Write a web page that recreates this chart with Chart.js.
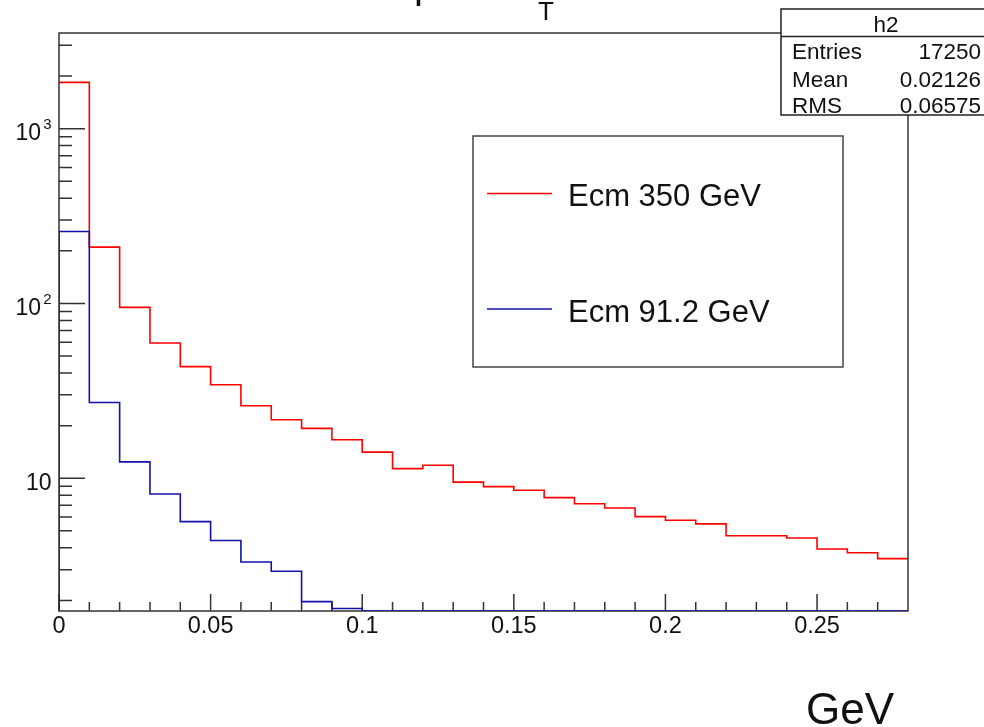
<!DOCTYPE html>
<html>
<head>
<meta charset="utf-8">
<script src="https://cdn.jsdelivr.net/npm/chart.js@4/dist/chart.umd.min.js"></script>
<style>
html,body{margin:0;padding:0;background:#fff;}
#wrap{width:984px;height:727px;position:relative;}
</style>
</head>
<body>
<div id="wrap"><canvas id="c"></canvas></div>
<script>
// ---- data ----
const binLow = [0, 0.01, 0.02, 0.03, 0.04, 0.05, 0.06, 0.07, 0.08, 0.09,
                0.10, 0.11, 0.12, 0.13, 0.14, 0.15, 0.16, 0.17, 0.18, 0.19,
                0.20, 0.21, 0.22, 0.23, 0.24, 0.25, 0.26, 0.27];
const xMin = 0;
const xMax = 0.28;
const ecm350 = [1840, 210, 95, 59.4, 43.5, 34.3, 26.0, 21.6, 19.3, 16.6,
                14.1, 11.35, 11.87, 9.5, 8.95, 8.54, 7.75, 7.15, 6.76, 6.03,
                5.75, 5.48, 4.69, 4.69, 4.55, 3.94, 3.75, 3.47];
const ecm912 = [258, 27.1, 12.4, 8.13, 5.65, 4.40, 3.32, 2.94, 1.97, 1.80,
                0, 0, 0, 0, 0, 0, 0, 0, 0, 0,
                0, 0, 0, 0, 0, 0, 0, 0];
const seriesNames = ['Ecm 350 GeV', 'Ecm 91.2 GeV'];
const yMin = 1.74;
const yMax = 3525;
const xTickValues = [0, 0.05, 0.1, 0.15, 0.2, 0.25];
const xTickLabels = ['0', '0.05', '0.1', '0.15', '0.2', '0.25'];
const yTickValues = [10, 100, 1000];
const yTickBase = ['10', '10', '10'];
const yTickExp = ['', '2', '3'];
const yMinorValues = [2, 3, 4, 5, 6, 7, 8, 9, 20, 30, 40, 50, 60, 70, 80, 90,
                      200, 300, 400, 500, 600, 700, 800, 900, 2000, 3000];
const statsName = 'h2';
const statLabels = ['Entries', 'Mean', 'RMS'];
const statValues = ['17250', '0.02126', '0.06575'];
const xAxisTitle = 'GeV';

// ---- styling ----
const FONT = '"Liberation Sans", Arial, Helvetica, sans-serif';
const RED = '#ff0000';
const BLUE = '#1212a8';
const AXIS = '#333333';
const TEXT = '#111111';

function stepPoints(edges, vals, fromBottom) {
  const pts = fromBottom ? [{x: edges[0], y: yMin}] : [];
  vals.forEach((v, i) => pts.push({x: edges[i], y: Math.max(v, yMin)}));
  pts.push({x: xMax, y: Math.max(vals[vals.length - 1], yMin)});
  return pts;
}

function drawFrame(chart) {
  const {ctx, chartArea: a, scales: {x, y}} = chart;
  ctx.save();
  ctx.strokeStyle = AXIS;
  ctx.lineWidth = 1.5;
  ctx.strokeRect(a.left, a.top, a.right - a.left, a.bottom - a.top);
  ctx.beginPath();
  binLow.forEach(v => {
    const px = x.getPixelForValue(v);
    ctx.moveTo(px, a.bottom); ctx.lineTo(px, a.bottom - 9);
  });
  xTickValues.forEach(v => {
    const px = x.getPixelForValue(v);
    ctx.moveTo(px, a.bottom); ctx.lineTo(px, a.bottom - 17);
  });
  yMinorValues.forEach(v => {
    const py = y.getPixelForValue(v);
    ctx.moveTo(a.left, py); ctx.lineTo(a.left + 13, py);
  });
  yTickValues.forEach(v => {
    const py = y.getPixelForValue(v);
    ctx.moveTo(a.left, py); ctx.lineTo(a.left + 26, py);
  });
  ctx.stroke();

  ctx.fillStyle = TEXT;
  ctx.font = '23.5px ' + FONT;
  ctx.textAlign = 'center';
  ctx.textBaseline = 'middle';
  xTickValues.forEach((v, i) => {
    ctx.fillText(xTickLabels[i], x.getPixelForValue(v), a.bottom + 16);
  });
  ctx.textBaseline = 'alphabetic';
  yTickValues.forEach((v, i) => {
    const py = y.getPixelForValue(v);
    const right = 51.5;
    ctx.font = '15px ' + FONT;
    const ew = yTickExp[i] ? ctx.measureText(yTickExp[i]).width : 0;
    if (yTickExp[i]) {
      ctx.textAlign = 'right';
      ctx.fillText(yTickExp[i], right, py + 0.5);
    }
    ctx.font = '23px ' + FONT;
    ctx.textAlign = 'right';
    ctx.fillText(yTickBase[i], right - (ew ? ew + 2 : 0), py + 11.5);
  });
  ctx.restore();
}

function drawDecor(chart) {
  const {ctx} = chart;
  ctx.save();
  ctx.fillStyle = TEXT;
  ctx.textBaseline = 'alphabetic';
  ctx.textAlign = 'left';
  ctx.font = '40px ' + FONT;
  ctx.fillText('p', 414, -2.5);
  ctx.font = '26px ' + FONT;
  ctx.textAlign = 'center';
  ctx.fillText('T', 546, 19.5);

  ctx.fillStyle = '#fff';
  ctx.fillRect(473, 136, 370, 231);
  ctx.strokeStyle = '#444';
  ctx.lineWidth = 1.5;
  ctx.strokeRect(473, 136, 370, 231);
  const legendRows = [
    {name: seriesNames[0], color: RED, ly: 193.5, ty: 206},
    {name: seriesNames[1], color: BLUE, ly: 309, ty: 322}
  ];
  legendRows.forEach(r => {
    ctx.strokeStyle = r.color;
    ctx.lineWidth = 1.5;
    ctx.beginPath(); ctx.moveTo(487, r.ly); ctx.lineTo(552, r.ly); ctx.stroke();
    ctx.fillStyle = TEXT;
    ctx.font = '31px ' + FONT;
    ctx.textAlign = 'left';
    ctx.fillText(r.name, 568, r.ty);
  });

  ctx.fillStyle = '#fff';
  ctx.fillRect(781, 9, 211, 106);
  ctx.strokeStyle = '#222';
  ctx.lineWidth = 1.5;
  ctx.strokeRect(781, 9, 211, 106);
  ctx.beginPath(); ctx.moveTo(781, 36.5); ctx.lineTo(992, 36.5); ctx.stroke();
  ctx.fillStyle = TEXT;
  ctx.font = '22.5px ' + FONT;
  ctx.textAlign = 'center';
  ctx.fillText(statsName, 886, 32);
  const rowY = [58.5, 86.5, 113];
  statLabels.forEach((lab, i) => {
    ctx.textAlign = 'left';
    ctx.fillText(lab, 792, rowY[i]);
    ctx.textAlign = 'right';
    ctx.fillText(statValues[i], 981, rowY[i]);
  });

  ctx.font = '44px ' + FONT;
  ctx.textAlign = 'left';
  ctx.fillText(xAxisTitle, 806, 724);
  ctx.restore();
}

const framePlugin = {
  id: 'rootFrame',
  afterDatasetDraw(chart, args) {
    if (args.index === 1) drawFrame(chart);
  },
  afterDraw(chart) { drawDecor(chart); }
};

new Chart(document.getElementById('c'), {
  type: 'line',
  data: {
    datasets: [
      {label: seriesNames[1], data: stepPoints(binLow, ecm912, true), borderColor: BLUE,
       borderWidth: 1.6, stepped: 'before', pointRadius: 0, fill: false, tension: 0},
      {label: seriesNames[0], data: stepPoints(binLow, ecm350, false), borderColor: RED,
       borderWidth: 1.6, stepped: 'before', pointRadius: 0, fill: false, tension: 0}
    ]
  },
  options: {
    responsive: true,
    maintainAspectRatio: false,
    animation: false,
    events: [],
    layout: {padding: {left: 59, top: 33, right: 76, bottom: 116}},
    scales: {
      x: {type: 'linear', min: xMin, max: xMax, display: false},
      y: {type: 'logarithmic', min: yMin, max: yMax, display: false}
    },
    plugins: {legend: {display: false}, tooltip: {enabled: false}, title: {display: false}}
  },
  plugins: [framePlugin]
});
</script>
</body>
</html>
